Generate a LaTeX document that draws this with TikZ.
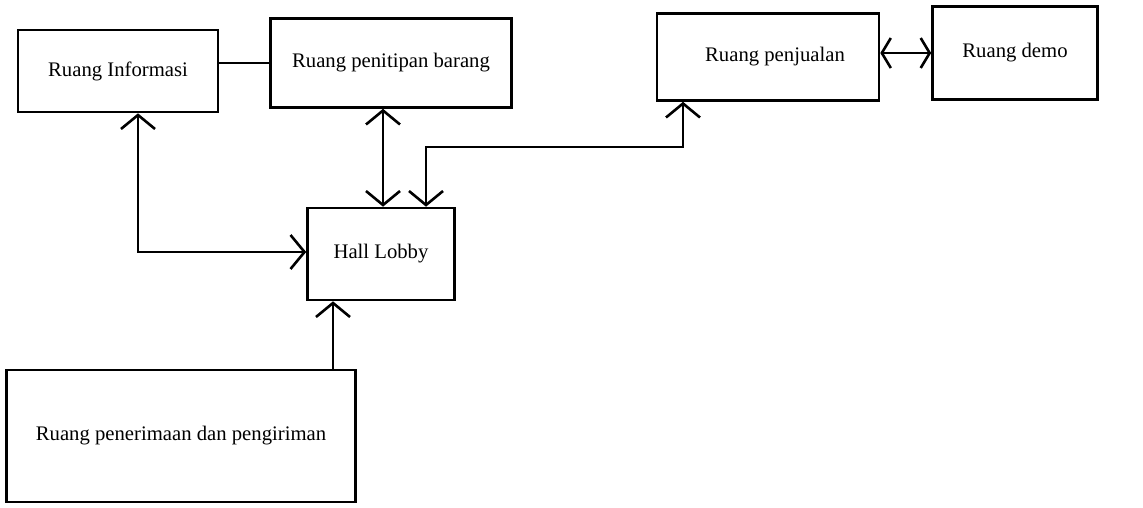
\documentclass[tikz,border=0pt]{standalone}
\usepackage{fontspec}
\setmainfont{Liberation Serif}
\usetikzlibrary{arrows.meta}
\begin{document}
\begin{tikzpicture}[x=1pt,y=-1pt,
  room/.style={draw,line width=2.6pt,inner sep=0pt,font=\fontsize{20.7}{24}\selectfont},
  link/.style={line width=2.6pt},
  tip/.tip={Straight Barb[length=14pt,width=34pt]},
  smalltip/.tip={Straight Barb[length=9pt,width=30pt]}]
\useasboundingbox (0,0) rectangle (1143,507);
% rooms
\node[room,minimum width=200pt,minimum height=82pt] (info)   at (118,71)  {Ruang Informasi};
\node[room,minimum width=241pt,minimum height=89pt] (titip)  at (391,63)  {Ruang penitipan barang};
\node[room,minimum width=222pt,minimum height=87pt] (jual)   at (768,57)  {\hspace*{14pt}Ruang penjualan};
\node[room,minimum width=165pt,minimum height=93pt] (demo)   at (1015,53) {Ruang demo};
\node[room,minimum width=147pt,minimum height=92pt] (hall)   at (381,254) {Hall Lobby};
\node[room,minimum width=349pt,minimum height=132pt] (terima) at (181,436) {Ruang penerimaan dan pengiriman};
% bend points of the corridors
\coordinate (c1) at (138,252);
\coordinate (c2) at (383,150);
\coordinate (c3) at (426,147);
\coordinate (c4) at (683,147);
\coordinate (c5) at (333,340);
% corridors
\draw[link] (titip.west) -- (titip.west -| info.east);
\draw[link,tip-tip] (info.south -| c1) -- (c1) -- (hall.west |- c1);
\draw[link,tip-tip] (titip.south -| c2) -- (hall.north -| c2);
\draw[link,tip-tip] (hall.north -| c3) -- (c3) -- (c4) -- (jual.south -| c4);
\draw[link,smalltip-smalltip] (jual.east |- demo.west) -- (demo.west);
\draw[link,-tip] (terima.north -| c5) -- (hall.south -| c5);
\end{tikzpicture}
\end{document}
